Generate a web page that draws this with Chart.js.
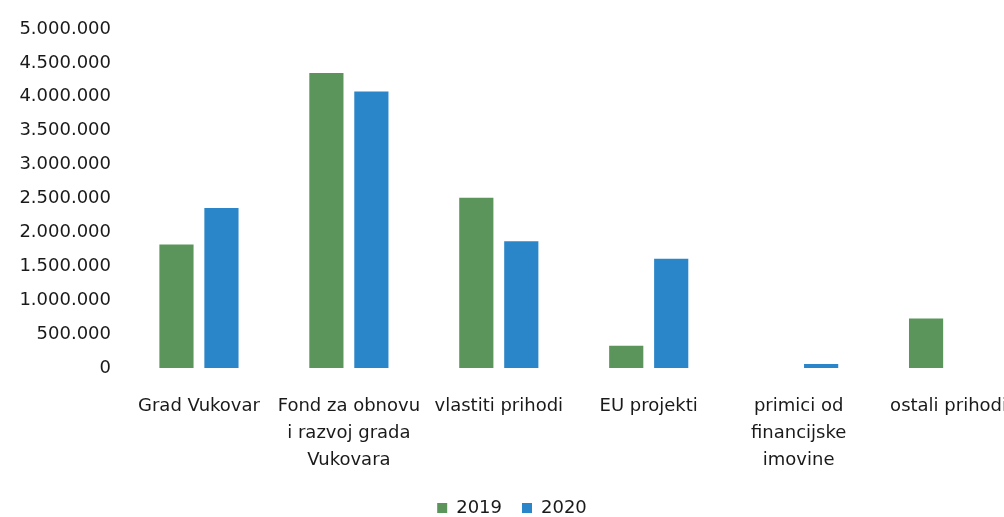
<!DOCTYPE html>
<html>
<head>
<meta charset="utf-8">
<script src="https://cdn.jsdelivr.net/npm/chart.js@4"></script>
<style>
    html, body { margin: 0; padding: 0; background: #ffffff; overflow: hidden; }
    #wrap { width: 1004px; height: 517px; overflow: hidden; position: relative; }
    #box { width: 1024px; height: 517px; position: absolute; left: 0; top: 0; }
</style>
</head>
<body>
<div id="wrap"><div id="box"><canvas id="chart"></canvas></div></div>
<script>
// kategorije prihoda
const categories = [
    'Grad Vukovar',
    ['Fond za obnovu', 'i razvoj grada', 'Vukovara'],
    'vlastiti prihodi',
    'EU projekti',
    ['primici od', 'financijske', 'imovine'],
    'ostali prihodi'
];
const values2019 = [1820000, 4350000, 2510000, 330000, 0, 730000];
const values2020 = [2360000, 4080000, 1870000, 1610000, 60000, 0];
const yTicks = [0, 500000, 1000000, 1500000, 2000000, 2500000, 3000000, 3500000, 4000000, 4500000, 5000000];

const textColor = '#1a1a1a';
const fontFamily = '"DejaVu Sans", sans-serif';

// 5000000 -> 5.000.000
function formatNumber(v) {
    return String(v).replace(/\B(?=(\d{3})+(?!\d))/g, '.');
}

new Chart(document.getElementById('chart'), {
    type: 'bar',
    data: {
        labels: categories,
        datasets: [
            {
                label: '2019',
                data: values2019,
                backgroundColor: '#5b955b',
                barPercentage: 0.76,
                categoryPercentage: 0.6
            },
            {
                label: '2020',
                data: values2020,
                backgroundColor: '#2b86c9',
                barPercentage: 0.76,
                categoryPercentage: 0.6
            }
        ]
    },
    options: {
        responsive: true,
        maintainAspectRatio: false,
        animation: false,
        layout: {
            padding: { top: 29, left: 0, right: 0, bottom: 0 }
        },
        plugins: {
            legend: {
                position: 'bottom',
                maxHeight: 38,
                labels: {
                    color: textColor,
                    boxWidth: 10,
                    boxHeight: 10,
                    padding: 20,
                    font: { family: fontFamily, size: 18 }
                }
            },
            tooltip: { enabled: false }
        },
        scales: {
            x: {
                grid: { display: false },
                border: { display: false },
                afterFit: scale => {
                    scale.height = 111;
                },
                ticks: {
                    color: textColor,
                    padding: 17,
                    maxRotation: 0,
                    autoSkip: false,
                    font: { family: fontFamily, size: 18, lineHeight: 1.5 }
                }
            },
            y: {
                min: 0,
                max: 5000000,
                grid: { display: false },
                border: { display: false },
                afterBuildTicks: scale => {
                    scale.ticks = yTicks.map(v => ({ value: v }));
                },
                afterFit: scale => {
                    scale.width = 124;
                },
                ticks: {
                    color: textColor,
                    padding: 5,
                    callback: v => formatNumber(v),
                    font: { family: fontFamily, size: 18 }
                }
            }
        }
    }
});
</script>
</body>
</html>
